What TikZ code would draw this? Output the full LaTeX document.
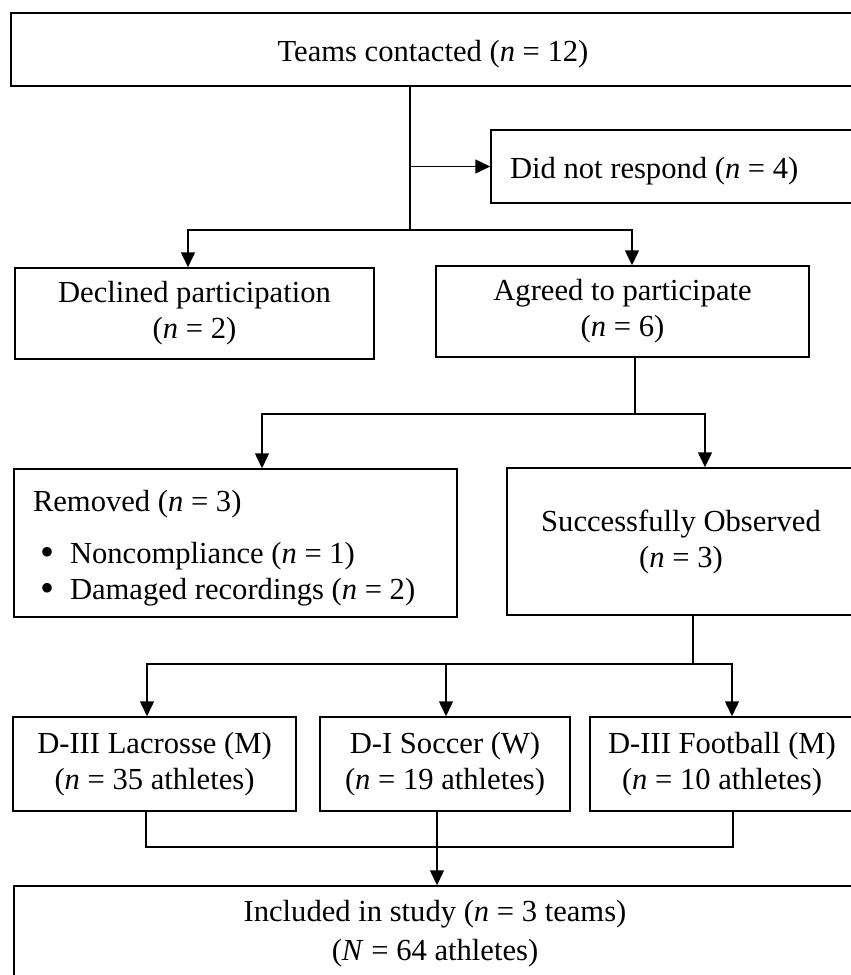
\documentclass[tikz,border=0pt]{standalone}
\usepackage{fontspec}
\setmainfont{Liberation Serif}
\usetikzlibrary{arrows.meta}

\newcommand{\bigdot}{\hspace*{3.5pt}\makebox[15pt][l]{\raisebox{-1.3pt}{\fontsize{20pt}{18pt}\selectfont\textbullet}}}

\begin{document}
\begin{tikzpicture}[x=0.5pt,y=-0.5pt,line width=0.75pt,
  box/.style={draw,inner sep=0pt,align=center,font=\fontsize{15.3pt}{18pt}\selectfont,
    execute at begin node={\rule{0pt}{15.5pt}}},
  arr/.style={-{Triangle[width=7pt,length=7.5pt]}}]
\useasboundingbox (0,0) rectangle (851,975);
% boxes
\node[box,minimum width=422pt,minimum height=36.5pt] (teams) at (433,49.5) {Teams contacted (\textit{n} = 12)};
\node[box,align=flush left,text width=163pt,inner xsep=9.5pt,minimum height=36.5pt] (noreply) at (673,166.5) {Did not respond (\textit{n} = 4)};
\node[box,minimum width=179.5pt,minimum height=45.5pt] (declined) at (194.5,313.5) {Declined participation\\(\textit{n} = 2)};
\node[box,minimum width=186.5pt,minimum height=45.5pt] (agreed) at (622.5,311.5) {Agreed to participate\\(\textit{n} = 6)};
\node[box,align=flush left,text width=202.5pt,inner xsep=9.5pt,minimum height=74pt] (removed) at (235.5,543) {Removed (\textit{n} = 3)\\[8pt]
  \bigdot Noncompliance (\textit{n} = 1)\\
  \bigdot Damaged recordings (\textit{n} = 2)};
\node[box,minimum width=174pt,minimum height=73.5pt] (observed) at (681,541.5) {Successfully Observed\\(\textit{n} = 3)};
\node[box,minimum width=141.5pt,minimum height=47pt] (lacrosse) at (154.5,764) {D-III Lacrosse (M)\\(\textit{n} = 35 athletes)};
\node[box,minimum width=125pt,minimum height=47pt] (soccer) at (445,764) {D-I Soccer (W)\\(\textit{n} = 19 athletes)};
\node[box,minimum width=132pt,minimum height=47pt] (football) at (722,764) {D-III Football (M)\\(\textit{n} = 10 athletes)};
\node[box,minimum width=421pt,minimum height=48pt] (included) at (435,934) {Included in study (\textit{n} = 3 teams)\\[1.5pt](\textit{N} = 64 athletes)};
% connectors
\coordinate (s1) at (410,230);
\coordinate (s2) at (635,414);
\coordinate (s3) at (693,664);
\coordinate (s4) at (437,847);
\draw (teams.south -| s1) -- (s1);
\draw[arr] (s1 |- noreply.west) -- (noreply.west);
\draw[arr] (s1) -| ([xshift=-3.25pt]declined.north);
\draw[arr] (s1) -| ([xshift=4.75pt]agreed.north);
\draw (agreed.south -| s2) -- (s2);
\draw[arr] (s2) -| ([xshift=13.25pt]removed.north);
\draw[arr] (s2) -| ([xshift=12pt]observed.north);
\draw (observed.south -| s3) -- (s3);
\draw[arr] (s3) -| ([xshift=-3.75pt]lacrosse.north);
\draw[arr] (s3) -| ([xshift=0.5pt]soccer.north);
\draw[arr] (s3) -| ([xshift=5pt]football.north);
\draw ([xshift=-4.25pt]lacrosse.south) |- (s4) -| ([xshift=5.5pt]football.south);
\draw (soccer.south -| s4) -- (s4);
\draw[arr] (s4) -- (included.north -| s4);
\end{tikzpicture}
\end{document}
